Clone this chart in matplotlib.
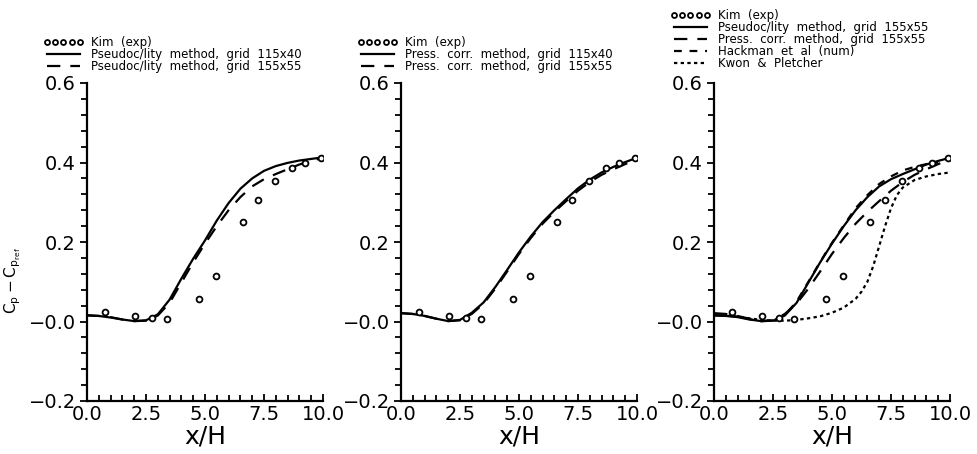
import matplotlib

matplotlib.use("Agg")
import matplotlib.pyplot as plt
from matplotlib.ticker import FixedLocator, MultipleLocator

# Kim experimental points
kim_x = [0.75, 2.05, 2.75, 3.4, 4.75, 5.45, 6.6, 7.25, 7.95, 8.7, 9.25, 9.9]
kim_y = [0.025, 0.014, 0.008, 0.006, 0.057, 0.114, 0.25, 0.306, 0.353, 0.385, 0.398, 0.411]

x_grid = [0.0, 0.5, 1.0, 1.5, 2.0, 2.5, 3.0, 3.5, 4.0, 4.5, 5.0,
          5.5, 6.0, 6.5, 7.0, 7.5, 8.0, 8.5, 9.0, 9.5, 10.0]

pseudo_115 = [0.016, 0.014, 0.010, 0.005, 0.001, 0.003, 0.018, 0.055, 0.108, 0.158, 0.204,
              0.254, 0.298, 0.334, 0.360, 0.379, 0.391, 0.399, 0.405, 0.409, 0.413]
pseudo_155 = [0.015, 0.014, 0.011, 0.005, 0.001, 0.002, 0.015, 0.047, 0.098, 0.149, 0.196,
              0.240, 0.280, 0.313, 0.340, 0.358, 0.371, 0.383, 0.395, 0.404, 0.412]
press_115 = [0.021, 0.019, 0.014, 0.007, 0.001, 0.004, 0.022, 0.048, 0.087, 0.130, 0.174,
             0.214, 0.250, 0.280, 0.308, 0.335, 0.357, 0.375, 0.389, 0.401, 0.412]
press_155 = [0.021, 0.019, 0.014, 0.007, 0.001, 0.003, 0.019, 0.045, 0.083, 0.126, 0.170,
             0.210, 0.246, 0.276, 0.303, 0.329, 0.351, 0.369, 0.383, 0.396, 0.408]

hackman_x = [0.0, 0.5, 1.0, 1.5, 2.0, 2.5, 3.0, 3.5, 4.0, 4.5, 5.0,
             5.5, 6.0, 6.5, 7.0, 7.5, 8.0, 8.5, 9.0, 9.5]
hackman_y = [0.016, 0.015, 0.012, 0.006, 0.001, 0.002, 0.016, 0.050, 0.100, 0.150, 0.198,
             0.242, 0.285, 0.318, 0.346, 0.365, 0.380, 0.389, 0.396, 0.400]

kwon_x = [0.0, 0.5, 1.0, 1.5, 2.0, 2.5, 3.0, 3.5, 4.0, 4.5, 5.0, 5.5, 6.0, 6.25,
          6.5, 6.75, 7.0, 7.25, 7.5, 7.75, 8.0, 8.5, 9.0, 9.5, 10.0]
kwon_y = [0.016, 0.015, 0.012, 0.008, 0.004, 0.002, 0.002, 0.004, 0.008, 0.013, 0.022,
          0.035, 0.057, 0.075, 0.100, 0.140, 0.190, 0.240, 0.285, 0.318, 0.337, 0.356,
          0.365, 0.371, 0.375]

x_ticks = [0.0, 2.5, 5.0, 7.5, 10.0]
x_tick_labels = ["0.0", "2.5", "5.0", "7.5", "10.0"]
y_ticks = [-0.2, 0.0, 0.2, 0.4, 0.6]
y_tick_labels = ["\u22120.2", "\u22120.0", "0.2", "0.4", "0.6"]

LONG = (0, (6, 4.5))
MED = (0, (3.5, 3.5))
DOT = (0, (1.5, 1.5))

panels = [
    [("Pseudoc/lity  method,  grid  115x40", x_grid, pseudo_115, "-"),
     ("Pseudoc/lity  method,  grid  155x55", x_grid, pseudo_155, LONG)],
    [("Press.  corr.  method,  grid  115x40", x_grid, press_115, "-"),
     ("Press.  corr.  method,  grid  155x55", x_grid, press_155, LONG)],
    [("Pseudoc/lity  method,  grid  155x55", x_grid, pseudo_155, "-"),
     ("Press.  corr.  method,  grid  155x55", x_grid, press_155, LONG),
     ("Hackman  et  al  (num)", hackman_x, hackman_y, MED),
     ("Kwon  &  Pletcher", kwon_x, kwon_y, DOT)],
]
legend_y = [1.03, 1.03, 1.04]

fig = plt.figure(figsize=(9.77, 4.54), dpi=100)
lefts = [87, 401, 714]
for i, series in enumerate(panels):
    ax = fig.add_axes([lefts[i] / 977, 53 / 454, 236 / 977, 318 / 454])
    handles = []
    h, = ax.plot(kim_x, kim_y, "o", mfc="white", mec="black", ms=4.2, mew=1.3,
                 label="Kim  (exp)", zorder=3)
    handles.append(h)
    for label, xs, ys, ls in series:
        h, = ax.plot(xs, ys, color="black", lw=1.6, linestyle=ls, label=label)
        handles.append(h)

    ax.set_xlim(0, 10)
    ax.set_ylim(-0.2, 0.6)
    ax.xaxis.set_major_locator(FixedLocator(x_ticks))
    ax.set_xticklabels(x_tick_labels)
    ax.xaxis.set_minor_locator(MultipleLocator(0.5))
    ax.yaxis.set_major_locator(FixedLocator(y_ticks))
    ax.set_yticklabels(y_tick_labels)
    ax.yaxis.set_minor_locator(MultipleLocator(0.04))
    ax.spines["top"].set_visible(False)
    ax.spines["right"].set_visible(False)
    for s in ("left", "bottom"):
        ax.spines[s].set_linewidth(1.6)
    ax.tick_params(axis="x", which="both", direction="in", width=1.3, labelsize=14, pad=3)
    ax.tick_params(axis="x", which="major", length=5)
    ax.tick_params(axis="x", which="minor", length=4)
    ax.tick_params(axis="y", which="both", direction="out", width=1.3, labelsize=14, pad=3)
    ax.tick_params(axis="y", which="major", length=5)
    ax.tick_params(axis="y", which="minor", length=4)
    ax.set_xlabel("x/H", fontsize=18, labelpad=0)
    if i == 0:
        ax.set_ylabel(r"$\mathregular{C_p - C_{p_{ref}}}$", fontsize=11)
        ax.yaxis.set_label_coords(-0.27, 0.38)

    ax.legend(handles=handles, loc="lower left", bbox_to_anchor=(-0.185, legend_y[i]),
              frameon=False, fontsize=8.5, numpoints=5, markerscale=0.85,
              handlelength=3.4, handletextpad=0.6, labelspacing=-0.08,
              borderpad=0, borderaxespad=0)

fig.savefig("out.png", dpi=100)
